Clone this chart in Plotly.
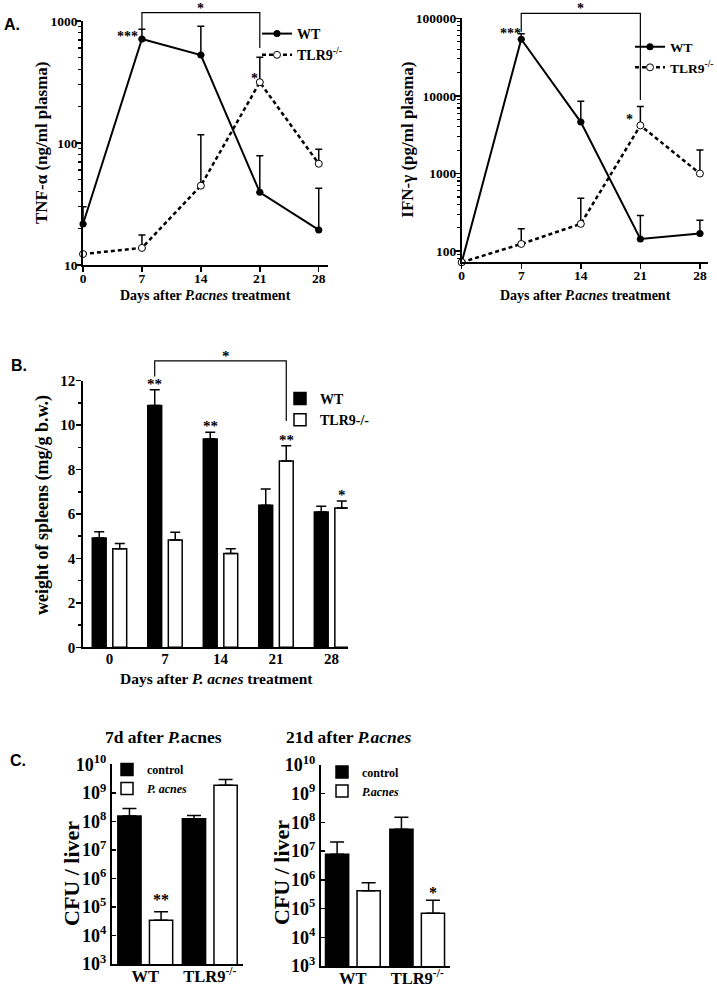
import numpy as np
import plotly.graph_objects as go

W, H = 717, 990
SERIF = "Liberation Serif"
SANS = "Liberation Sans"

# ---------------- data ----------------
days = [0, 7, 14, 21, 28]

tnf_wt = [21.7, 711, 526, 39.4, 19.4]
tnf_wt_err = [8.3, 144, 378, 39.3, 23.1]
tnf_ko = [12.3, 13.8, 44.7, 315, 67.6]
tnf_ko_err = [0, 3.8, 72, 189, 21.4]

ifn_wt = [72, 53700, 4600, 144, 169]
ifn_wt_err = [0, 9700, 3970, 144, 81]
ifn_ko = [72, 124, 225, 4170, 1000]
ifn_ko_err = [0, 70, 255, 3140, 1010]

spleen_days = ["0", "7", "14", "21", "28"]
spleen_wt = [4.92, 10.88, 9.38, 6.39, 6.09]
spleen_wt_err = [0.28, 0.71, 0.30, 0.74, 0.26]
spleen_ko = [4.44, 4.83, 4.22, 8.39, 6.27]
spleen_ko_err = [0.23, 0.35, 0.22, 0.68, 0.31]

genotypes = ["WT", "TLR9<sup>-/-</sup>"]
cfu7_ctrl = [1.55e8, 1.23e8]
cfu7_ctrl_err = [1.25e8, 0.37e8]
cfu7_pa = [3.4e4, 1.86e9]
cfu7_pa_err = [3.4e4, 1.07e9]
cfu21_ctrl = [7.8e6, 5.8e7]
cfu21_ctrl_err = [1.32e7, 9.2e7]
cfu21_pa = [4.2e5, 6.9e4]
cfu21_pa_err = [3.8e5, 1.26e5]

# ---------------- helpers ----------------
def fx(p):
    return p / W


def fy(p):
    return 1 - p / H


def tops(v, e):
    return [a + b for a, b in zip(v, e)]


def errbar(arr, w):
    return dict(type="data", symmetric=False, array=arr, arrayminus=[0] * len(arr),
                color="black", thickness=1.5, width=w)


fig = go.Figure()

# ---------------- Panel A ----------------
for (xa, ya, lg, wt, wte, ko, koe) in [
    ("x", "y", "legend", tnf_wt, tnf_wt_err, tnf_ko, tnf_ko_err),
    ("x2", "y2", "legend2", ifn_wt, ifn_wt_err, ifn_ko, ifn_ko_err),
]:
    fig.add_trace(go.Scatter(
        x=days, y=wt, mode="lines+markers", name="<b>WT</b>",
        line=dict(color="black", width=2),
        marker=dict(color="black", size=7, symbol="circle"),
        error_y=errbar(wte, 3.5), xaxis=xa, yaxis=ya, legend=lg, cliponaxis=False))
    fig.add_trace(go.Scatter(
        x=days, y=ko, mode="lines+markers", name="<b>TLR9<sup>-/-</sup></b>",
        line=dict(color="black", width=2.5, dash="4px,3px"),
        marker=dict(color="white", size=7, symbol="circle",
                    line=dict(color="black", width=1)),
        error_y=errbar(koe, 3.5), xaxis=xa, yaxis=ya, legend=lg, cliponaxis=False))

# ---------------- Panel B ----------------
BW_B, SH_B = 0.25, 0.185
fig.add_trace(go.Bar(
    x=spleen_days, y=spleen_wt, name="<b>WT</b>", width=BW_B, offset=-SH_B - BW_B / 2,
    marker=dict(color="black", line=dict(color="black", width=1.5)),
    error_y=errbar(spleen_wt_err, 5), xaxis="x3", yaxis="y3", legend="legend3"))
fig.add_trace(go.Bar(
    x=spleen_days, y=spleen_ko, name="<b>TLR9-/-</b>", width=BW_B, offset=SH_B - BW_B / 2,
    marker=dict(color="white", line=dict(color="black", width=1.5)),
    error_y=errbar(spleen_ko_err, 5), xaxis="x3", yaxis="y3", legend="legend3"))

# ---------------- Panel C ----------------
BW_C, SH_C = 0.36, 0.245
for (xa, ya, lg, ctrl, ctrle, pa, pae, paname) in [
    ("x4", "y4", "legend4", cfu7_ctrl, cfu7_ctrl_err, cfu7_pa, cfu7_pa_err, "<b><i>P. acnes</i></b>"),
    ("x5", "y5", "legend5", cfu21_ctrl, cfu21_ctrl_err, cfu21_pa, cfu21_pa_err, "<b><i>P.acnes</i></b>"),
]:
    fig.add_trace(go.Bar(
        x=genotypes, y=ctrl, name="<b>control</b>", width=BW_C, offset=-SH_C - BW_C / 2,
        marker=dict(color="black", line=dict(color="black", width=1.5)),
        error_y=errbar(ctrle, 7), xaxis=xa, yaxis=ya, legend=lg))
    fig.add_trace(go.Bar(
        x=genotypes, y=pa, name=paname, width=BW_C, offset=SH_C - BW_C / 2,
        marker=dict(color="white", line=dict(color="black", width=1.5)),
        error_y=errbar(pae, 7), xaxis=xa, yaxis=ya, legend=lg))

# ---------------- axes ----------------
def base_axis(**kw):
    d = dict(showline=True, linecolor="black", linewidth=1.8, showgrid=False,
             zeroline=False, ticks="outside", tickcolor="black", tickwidth=1.5,
             ticklen=5, fixedrange=True, automargin=False,
             tickfont=dict(family=SERIF, size=13.5, color="black", weight="bold"))
    d.update(kw)
    return d


minorA1 = [m * 10 ** d for d in (1, 2) for m in range(2, 10)]
minorA2 = [m * 10 ** d for d in (1, 2, 3, 4) for m in range(2, 10)]
cfu_ticks = [10 ** k for k in range(3, 11)]
cfu_text = ["10<sup>%d</sup>" % k for k in range(3, 11)]
fontC = dict(family=SERIF, size=18, color="black", weight="bold")
fontB = dict(family=SERIF, size=15, color="black", weight="bold")
fontCx = dict(family=SERIF, size=16.5, color="black", weight="bold")

layout = dict(
    width=W, height=H, margin=dict(l=0, r=0, t=0, b=0, pad=0, autoexpand=False),
    autosize=False,
    paper_bgcolor="white", plot_bgcolor="rgba(0,0,0,0)", barmode="overlay",
    showlegend=True,
    xaxis=base_axis(domain=[fx(83), fx(328)], range=[0, 29.1], tickvals=days,
                    anchor="y", ticklabelstandoff=-5),
    yaxis=base_axis(domain=[fy(265), fy(21)], type="log", range=[1, 3],
                    tickvals=[10, 100, 1000], ticktext=["10", "100", "1000"],
                    ticklen=5, anchor="x", ticklabelstandoff=-4,
                    minor=dict(tickvals=minorA1, ticks="outside", ticklen=3,
                               tickwidth=1.2, tickcolor="black")),
    xaxis2=base_axis(domain=[fx(461.7), fx(708)], range=[0, 28.95], tickvals=days,
                     anchor="y2", ticklabelstandoff=-5),
    yaxis2=base_axis(domain=[fy(262.3), fy(18.3)], type="log", range=[1.857, 5],
                     tickvals=[100, 1000, 10000, 100000],
                     ticktext=["100", "1000", "10000", "100000"],
                     ticklen=5, anchor="x2", ticklabelstandoff=-4,
                     minor=dict(tickvals=minorA2, ticks="outside", ticklen=3,
                                tickwidth=1.2, tickcolor="black")),
    xaxis3=base_axis(domain=[fx(83), fx(348)], type="category",
                     range=[-0.477, 4.297], ticks="", anchor="y3", tickfont=fontB,
                     ticklabelstandoff=-3),
    yaxis3=base_axis(domain=[fy(647.3), fy(380.7)], range=[0, 12], dtick=2,
                     tick0=0, anchor="x3", tickfont=fontB, ticklabelstandoff=-2,
                     minor=dict(dtick=1, tick0=0, ticks="outside", ticklen=3,
                                tickwidth=1.5, tickcolor="black")),
    xaxis4=base_axis(domain=[fx(111.7), fx(242.7)], type="category",
                     range=[-0.52, 1.51], ticks="", anchor="y4", tickfont=fontCx,
                     ticklabelstandoff=-4),
    yaxis4=base_axis(domain=[fy(964), fy(764.3)], type="log", range=[3, 10],
                     tickvals=cfu_ticks, ticktext=cfu_text, anchor="x4", tickfont=fontC,
                     ticks="inside", ticklen=4),
    xaxis5=base_axis(domain=[fx(320.7), fx(450)], type="category",
                     range=[-0.5, 1.51], ticks="", anchor="y5", tickfont=fontCx,
                     ticklabelstandoff=-4),
    yaxis5=base_axis(domain=[fy(966), fy(765)], type="log", range=[3, 10],
                     tickvals=cfu_ticks, ticktext=cfu_text, anchor="x5", tickfont=fontC,
                     ticks="inside", ticklen=4),
)


def leg(xp, yp, size):
    return dict(x=fx(xp), y=fy(yp), xanchor="left", yanchor="top",
                bgcolor="rgba(0,0,0,0)", borderwidth=0, itemwidth=30,
                tracegroupgap=0, itemclick=False, itemdoubleclick=False,
                font=dict(family=SERIF, size=size, color="black", weight="bold"))


layout["legend"] = leg(257, 18, 14)
layout["legend2"] = leg(630, 31.5, 13.5)
layout["legend3"] = leg(280, 383, 14)
layout["legend4"] = leg(107, 755, 12)
layout["legend5"] = leg(322, 757.5, 12)

fig.update_layout(**layout)

# ---------------- brackets ----------------
shapes = []


def bracket(xref, yref, x0, x1, ylo0, ytop, ylo1):
    shapes.append(dict(type="path", xref=xref, yref=yref,
                       path=f"M {x0},{ylo0} L {x0},{ytop} L {x1},{ytop} L {x1},{ylo1}",
                       line=dict(color="black", width=1.2)))


bracket("x", "y domain", days[1], days[3], 0.967, 1.034, 0.889)
bracket("x2", "y2 domain", days[1], days[3], 0.945, 1.0205, 0.665)
bracket("x3", "y3 domain", 1 - SH_B, 3 + SH_B, 1.016, 1.074, 0.849)
fig.update_layout(shapes=shapes)

# ---------------- annotations ----------------
ann = []


def txt(text, x, y, xref="paper", yref="paper", size=14, family=SERIF, bold=True,
        xanchor="center", yanchor="middle", angle=0, xshift=0, yshift=0):
    ann.append(dict(text=text, x=x, y=y, xref=xref, yref=yref, showarrow=False,
                    xanchor=xanchor, yanchor=yanchor, textangle=angle,
                    xshift=xshift, yshift=yshift,
                    font=dict(family=family, size=size, color="black",
                              weight="bold" if bold else "normal")))


# panel letters
txt("A.", fx(12), fy(24), size=16, family=SANS)
txt("B.", fx(19), fy(365), size=16, family=SANS)
txt("C.", fx(18), fy(760), size=16, family=SANS)

# axis titles
txt("TNF-α (ng/ml plasma)", fx(42), fy(143), size=17, angle=-90)
txt("Days after <i>P.acnes</i> treatment", fx(205), fy(295), size=14)
txt("IFN-γ (pg/ml plasma)", fx(406.7), fy(140), size=17, angle=-90)
txt("Days after <i>P.acnes</i> treatment", fx(585), fy(295), size=14)
txt("weight of spleens (mg/g b.w.)", fx(43), fy(505), size=18, angle=-90)
txt("Days after <i>P. acnes</i> treatment", fx(216), fy(678), size=15.5)
txt("CFU / liver", fx(71), fy(874), size=22, angle=-90)
txt("CFU / liver", fx(281), fy(873), size=22, angle=-90)
txt("7d after <i>P.</i>acnes", fx(163), fy(737), size=17.5)
txt("21d after <i>P.acnes</i>", fx(348), fy(737), size=17.5)

# significance marks - panel A
txt("*", (days[1] + days[3]) / 2, 1.034, xref="x", yref="y domain", yanchor="bottom", yshift=-5)
txt("***", days[1], np.log10(tnf_wt[1]), xref="x", yref="y", xanchor="right", xshift=-2, yshift=3)
txt("*", days[3], np.log10(tnf_ko[3]), xref="x", yref="y", xanchor="right", xshift=0, yshift=4)
txt("*", (days[1] + days[3]) / 2, 1.0205, xref="x2", yref="y2 domain", yanchor="bottom", yshift=-5)
txt("***", days[1], np.log10(ifn_wt[1]), xref="x2", yref="y2", xanchor="right", xshift=2, yshift=6)
txt("*", days[3], np.log10(ifn_ko[3]), xref="x2", yref="y2", xanchor="right", xshift=-5, yshift=6)

# panel B
wt_top = tops(spleen_wt, spleen_wt_err)
ko_top = tops(spleen_ko, spleen_ko_err)
txt("*", 2, 1.074, xref="x3", yref="y3 domain", yanchor="bottom", yshift=-5, xshift=5, size=15)
txt("**", 1 - SH_B, wt_top[1], xref="x3", yref="y3", yanchor="bottom", yshift=-4, size=15)
txt("**", 2 - SH_B, wt_top[2], xref="x3", yref="y3", yanchor="bottom", yshift=-4, size=15)
txt("**", 3 + SH_B, ko_top[3], xref="x3", yref="y3", yanchor="bottom", yshift=-4, size=15)
txt("*", 4 + SH_B, ko_top[4], xref="x3", yref="y3", yanchor="bottom", yshift=-4, size=15)

# panel C
pa7_top = tops(cfu7_pa, cfu7_pa_err)
pa21_top = tops(cfu21_pa, cfu21_pa_err)
txt("**", 0 + SH_C, np.log10(pa7_top[0]), xref="x4", yref="y4", yanchor="bottom", yshift=2, size=16)
txt("*", 1 + SH_C, np.log10(pa21_top[1]), xref="x5", yref="y5", yanchor="bottom", yshift=-3, size=16)

fig.update_layout(annotations=ann)

fig.write_html("out.html",
               config={"displayModeBar": False, "staticPlot": True},
               post_script="document.body.style.margin='0px';document.body.style.padding='0px';")
